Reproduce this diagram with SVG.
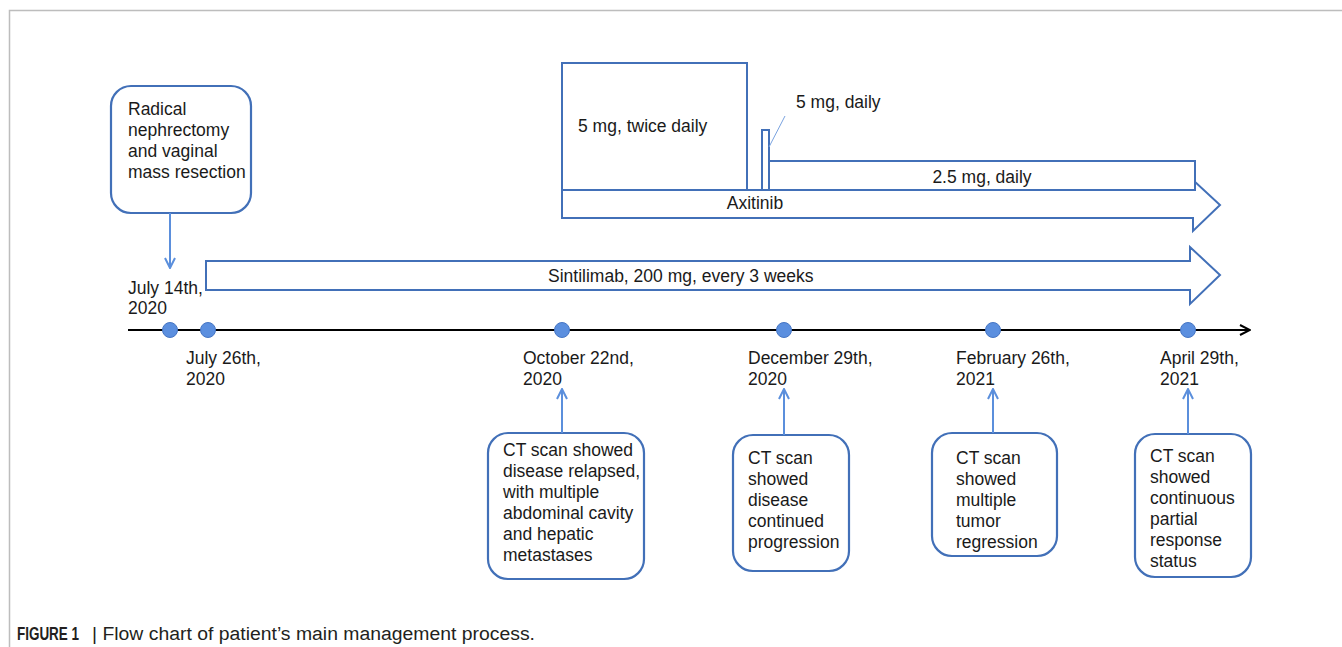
<svg xmlns="http://www.w3.org/2000/svg" width="1342" height="647" viewBox="0 0 1342 647">
<defs>
<style>
text{font-family:"Liberation Sans",Arial,sans-serif;fill:#1a1a1a;}
.t{font-size:17.5px;}
.box{fill:#fff;stroke:#4270b8;stroke-width:2.2;}
.bar{fill:#fff;stroke:#4270b8;stroke-width:2;}
.conn{stroke:#5b8fdc;stroke-width:2;fill:none;}
.dot{fill:#5b8fdf;stroke:#4676c4;stroke-width:1;}
.cap{font-size:18px;fill:#231f20;}
</style>
<marker id="ah" viewBox="0 0 12 12" refX="11" refY="6" markerWidth="12" markerHeight="12" markerUnits="userSpaceOnUse" orient="auto">
<path d="M1,1 L11,6 L1,11" fill="none" stroke="#5b8fdc" stroke-width="2"/>
</marker>
<marker id="ahk" viewBox="0 0 12 12" refX="11" refY="6" markerWidth="12" markerHeight="12" markerUnits="userSpaceOnUse" orient="auto">
<path d="M1,1 L11,6 L1,11" fill="none" stroke="#000" stroke-width="2"/>
</marker>
</defs>
<rect width="1342" height="647" fill="#fff"/>
<path d="M9.5,647 V10.5 H1342" fill="none" stroke="#bdbdbd" stroke-width="1.5"/>

<g id="axitinib">
<path class="bar" d="M562,190 H1193 V180 L1220,205 L1193,231 V218 H562 Z"/>
<text class="t" x="755" y="209" text-anchor="middle">Axitinib</text>
</g>
<g id="dose-twice">
<rect class="bar" x="562" y="63" width="185" height="127"/>
<text class="t" x="578" y="132">5 mg, twice daily</text>
</g>
<g id="dose-daily">
<rect class="bar" x="762" y="130" width="7" height="60"/>
<text class="t" x="796" y="108">5 mg, daily</text>
</g>
<g id="dose-half">
<rect class="bar" x="769" y="161" width="426" height="29"/>
<text class="t" x="982" y="183" text-anchor="middle">2.5 mg, daily</text>
</g>
<g id="sintilimab">
<path class="bar" d="M206,261 H1190 V247 L1220,275 L1190,304 V290 H206 Z"/>
<text class="t" x="548" y="282">Sintilimab, 200 mg, every 3 weeks</text>
</g>

<g id="surgery">
<rect class="box" x="111" y="86" width="140" height="127" rx="20"/>
<text class="t" x="128" y="115">Radical</text>
<text class="t" x="128" y="136">nephrectomy</text>
<text class="t" x="128" y="157">and vaginal</text>
<text class="t" x="128" y="178">mass resection</text>
</g>

<g id="timeline">
<line x1="128" y1="330" x2="1250" y2="330" stroke="#000" stroke-width="2" marker-end="url(#ahk)"/>
<circle class="dot" cx="170" cy="330" r="7.5"/>
<circle class="dot" cx="208" cy="330" r="7.5"/>
<circle class="dot" cx="562" cy="330" r="7.5"/>
<circle class="dot" cx="784" cy="330" r="7.5"/>
<circle class="dot" cx="993" cy="330" r="7.5"/>
<circle class="dot" cx="1188" cy="330" r="7.5"/>
</g>

<g id="dates">
<text class="t" x="128" y="294">July 14th,</text>
<text class="t" x="128" y="314">2020</text>
<text class="t" x="186" y="364">July 26th,</text>
<text class="t" x="186" y="385">2020</text>
<text class="t" x="523" y="364">October 22nd,</text>
<text class="t" x="523" y="385">2020</text>
<text class="t" x="748" y="364">December 29th,</text>
<text class="t" x="748" y="385">2020</text>
<text class="t" x="956" y="364">February 26th,</text>
<text class="t" x="956" y="385">2021</text>
<text class="t" x="1160" y="364">April 29th,</text>
<text class="t" x="1160" y="385">2021</text>
</g>

<g id="ct1">
<rect class="box" x="488" y="433" width="156" height="146" rx="20"/>
<text class="t" x="503" y="456">CT scan showed</text>
<text class="t" x="503" y="477">disease relapsed,</text>
<text class="t" x="503" y="498">with multiple</text>
<text class="t" x="503" y="519">abdominal cavity</text>
<text class="t" x="503" y="540">and hepatic</text>
<text class="t" x="503" y="561">metastases</text>
</g>
<g id="ct2">
<rect class="box" x="733" y="435" width="116" height="136" rx="20"/>
<text class="t" x="748" y="464">CT scan</text>
<text class="t" x="748" y="485">showed</text>
<text class="t" x="748" y="506">disease</text>
<text class="t" x="748" y="527">continued</text>
<text class="t" x="748" y="548">progression</text>
</g>
<g id="ct3">
<rect class="box" x="932" y="433" width="125" height="123" rx="20"/>
<text class="t" x="956" y="464">CT scan</text>
<text class="t" x="956" y="485">showed</text>
<text class="t" x="956" y="506">multiple</text>
<text class="t" x="956" y="527">tumor</text>
<text class="t" x="956" y="548">regression</text>
</g>
<g id="ct4">
<rect class="box" x="1135" y="434" width="116" height="143" rx="20"/>
<text class="t" x="1150" y="462">CT scan</text>
<text class="t" x="1150" y="483">showed</text>
<text class="t" x="1150" y="504">continuous</text>
<text class="t" x="1150" y="525">partial</text>
<text class="t" x="1150" y="546">response</text>
<text class="t" x="1150" y="567">status</text>
</g>

<g id="connectors">
<line class="conn" x1="170" y1="213" x2="170" y2="268" marker-end="url(#ah)"/>
<line class="conn" x1="562" y1="433" x2="562" y2="389" marker-end="url(#ah)"/>
<line class="conn" x1="784" y1="435" x2="784" y2="389" marker-end="url(#ah)"/>
<line class="conn" x1="993" y1="433" x2="993" y2="389" marker-end="url(#ah)"/>
<line class="conn" x1="1188" y1="434" x2="1188" y2="389" marker-end="url(#ah)"/>
<line x1="769" y1="147" x2="785" y2="116" stroke="#7aa3e0" stroke-width="1"/>
</g>

<g id="caption">
<text class="cap" x="17" y="640" font-weight="bold" textLength="62" lengthAdjust="spacingAndGlyphs">FIGURE 1</text>
<text class="cap" x="92" y="640" textLength="443" lengthAdjust="spacingAndGlyphs">| Flow chart of patient’s main management process.</text>
</g>
</svg>
